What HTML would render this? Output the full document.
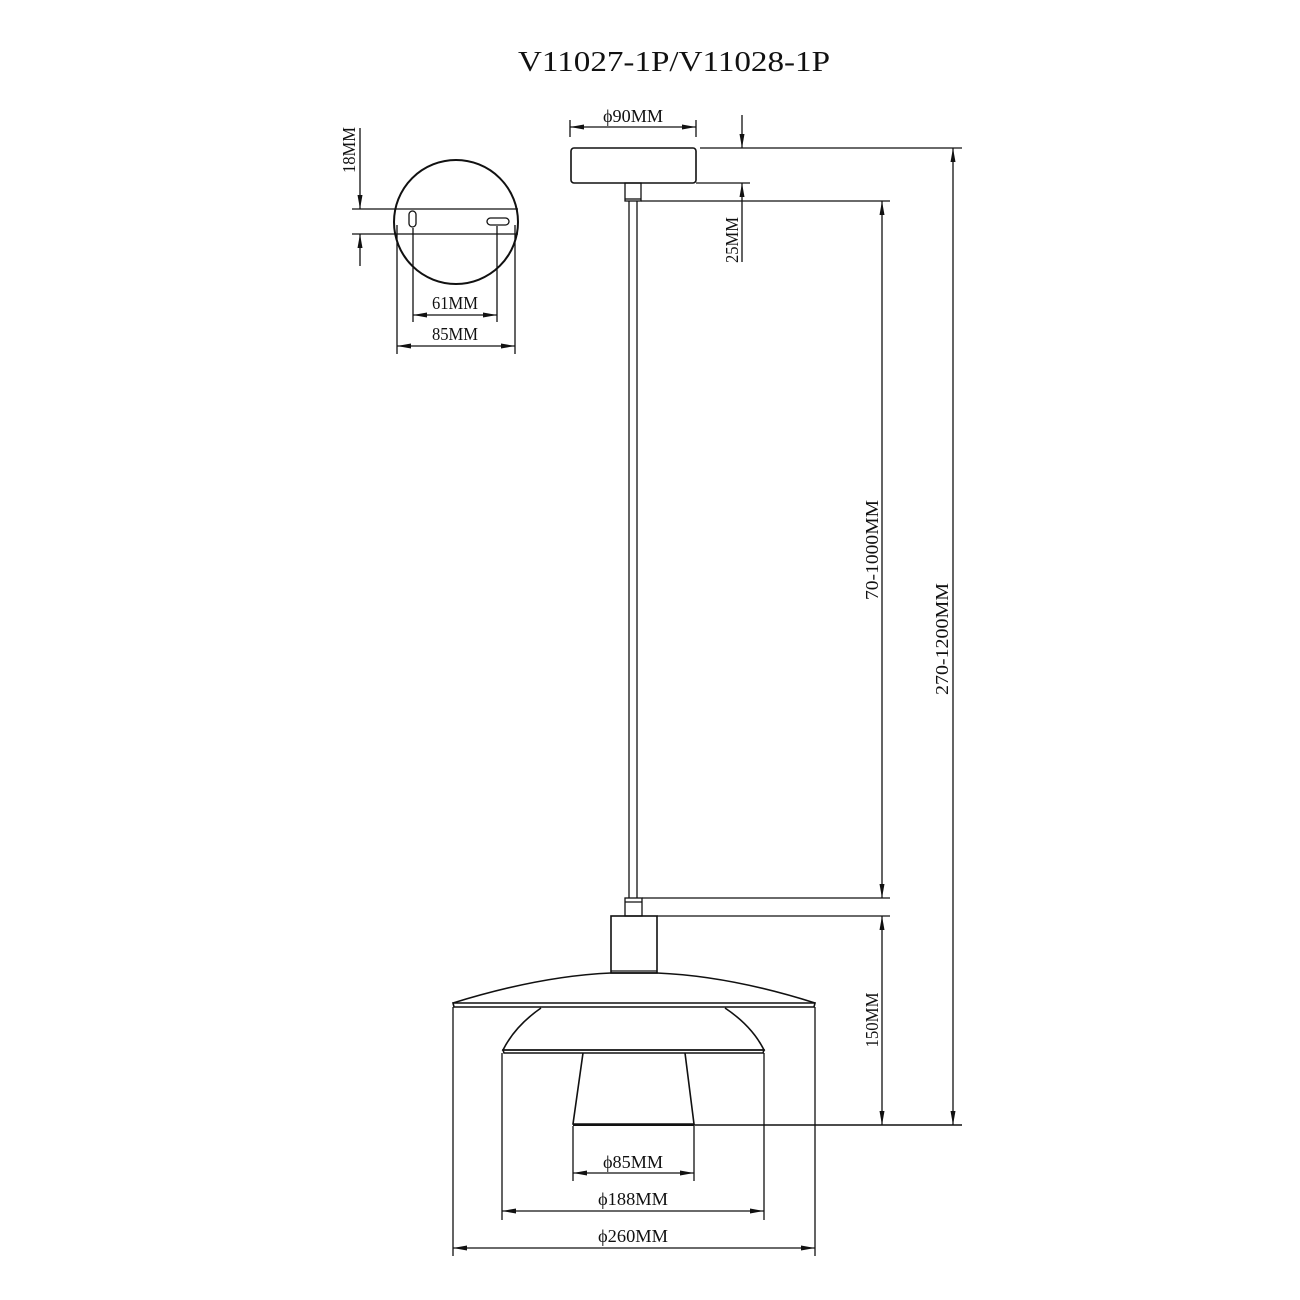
<!DOCTYPE html>
<html><head><meta charset="utf-8"><style>
html,body{margin:0;padding:0;background:#fff;}
svg{display:block;}
text{font-family:"Liberation Serif",serif;fill:#111;}
</style></head><body>
<svg width="1300" height="1300" viewBox="0 0 1300 1300" xmlns="http://www.w3.org/2000/svg">
<rect width="1300" height="1300" fill="#fff"/>
<text x="674" y="71" font-size="28" text-anchor="middle" textLength="312" lengthAdjust="spacingAndGlyphs">V11027-1P/V11028-1P</text>

<g stroke="#111" fill="none" stroke-width="1.3">
<!-- mounting plate -->
<circle cx="456" cy="222" r="62" stroke-width="2"/>
<line x1="352" y1="209" x2="518" y2="209"/>
<line x1="352" y1="234" x2="518" y2="234"/>
<rect x="409" y="211" width="7" height="16" rx="3.5"/>
<rect x="487" y="218" width="22" height="7" rx="3.5"/>
<line x1="413" y1="228" x2="413" y2="322"/>
<line x1="497" y1="226" x2="497" y2="322"/>
<line x1="397" y1="225" x2="397" y2="354"/>
<line x1="515" y1="225" x2="515" y2="354"/>
<line x1="413" y1="315" x2="497" y2="315"/>
<line x1="397" y1="346" x2="515" y2="346"/>
<line x1="360" y1="128" x2="360" y2="209"/>
<line x1="360" y1="234" x2="360" y2="266"/>

<!-- canopy -->
<rect x="571" y="148" width="125" height="35" rx="3" stroke-width="1.6"/>
<rect x="625" y="183" width="16" height="18"/>
<line x1="625" y1="199" x2="641" y2="199"/>
<line x1="629" y1="201" x2="629" y2="898"/>
<line x1="637" y1="201" x2="637" y2="898"/>
<line x1="570" y1="120" x2="570" y2="137"/>
<line x1="696" y1="120" x2="696" y2="137"/>
<line x1="570" y1="127" x2="696" y2="127"/>

<!-- horizontal extension lines -->
<line x1="700" y1="148" x2="962" y2="148"/>
<line x1="696" y1="183" x2="750" y2="183"/>
<line x1="641" y1="201" x2="890" y2="201"/>
<line x1="642" y1="898" x2="890" y2="898"/>
<line x1="657" y1="916" x2="890" y2="916"/>
<line x1="694" y1="1125" x2="962" y2="1125" stroke-width="1.6"/>

<!-- vertical dims -->
<line x1="742" y1="115" x2="742" y2="148"/>
<line x1="742" y1="183" x2="742" y2="262"/>
<line x1="882" y1="201" x2="882" y2="898"/>
<line x1="882" y1="916" x2="882" y2="1125"/>
<line x1="953" y1="148" x2="953" y2="1125"/>

<!-- lamp -->
<rect x="625" y="898" width="17" height="18"/>
<line x1="625" y1="902" x2="642" y2="902"/>
<rect x="611" y="916" width="46" height="57" stroke-width="1.6"/>
<line x1="611" y1="971" x2="657" y2="971"/>
<path d="M453 1003 Q540 976 611 973 L657 973 Q730 976 815 1003" stroke-width="1.6"/>
<path d="M453 1003 L815 1003 L814 1007 L454 1007 Z" stroke-width="1.6"/>
<path d="M541 1008 Q515 1026 503 1050 L764 1050 Q752 1026 725 1008" stroke-width="1.6"/>
<path d="M503 1050 L764 1050 L763 1053 L504 1053 Z" stroke-width="1.6"/>
<path d="M583 1053 L573 1124 L694 1124 L685 1053" stroke-width="1.6"/>
<line x1="573" y1="1125" x2="694" y2="1125" stroke-width="2"/>

<!-- bottom dims -->
<line x1="573" y1="1126" x2="573" y2="1181"/>
<line x1="694" y1="1126" x2="694" y2="1181"/>
<line x1="502" y1="1053" x2="502" y2="1220"/>
<line x1="764" y1="1053" x2="764" y2="1220"/>
<line x1="453" y1="1007" x2="453" y2="1256"/>
<line x1="815" y1="1007" x2="815" y2="1256"/>
<line x1="573" y1="1173" x2="694" y2="1173"/>
<line x1="502" y1="1211" x2="764" y2="1211"/>
<line x1="453" y1="1248" x2="815" y2="1248"/>
</g>

<!-- arrowheads -->
<g fill="#111" stroke="none">
<!-- horizontal -->
<polygon points="570,127 584,124.5 584,129.5"/><polygon points="696,127 682,124.5 682,129.5"/>
<polygon points="413,315 427,312.5 427,317.5"/><polygon points="497,315 483,312.5 483,317.5"/>
<polygon points="397,346 411,343.5 411,348.5"/><polygon points="515,346 501,343.5 501,348.5"/>
<polygon points="573,1173 587,1170.5 587,1175.5"/><polygon points="694,1173 680,1170.5 680,1175.5"/>
<polygon points="502,1211 516,1208.5 516,1213.5"/><polygon points="764,1211 750,1208.5 750,1213.5"/>
<polygon points="453,1248 467,1245.5 467,1250.5"/><polygon points="815,1248 801,1245.5 801,1250.5"/>
<!-- vertical -->
<polygon points="360,209 357.5,195 362.5,195"/><polygon points="360,234 357.5,248 362.5,248"/>
<polygon points="742,148 739.5,134 744.5,134"/><polygon points="742,183 739.5,197 744.5,197"/>
<polygon points="882,201 879.5,215 884.5,215"/><polygon points="882,898 879.5,884 884.5,884"/>
<polygon points="882,916 879.5,930 884.5,930"/><polygon points="882,1125 879.5,1111 884.5,1111"/>
<polygon points="953,148 950.5,162 955.5,162"/><polygon points="953,1125 950.5,1111 955.5,1111"/>
</g>

<!-- labels -->
<g font-size="18">
<text x="633" y="122" text-anchor="middle" textLength="60" lengthAdjust="spacingAndGlyphs">ϕ90MM</text>
<text x="455" y="309" text-anchor="middle" textLength="46" lengthAdjust="spacingAndGlyphs">61MM</text>
<text x="455" y="340" text-anchor="middle" textLength="46" lengthAdjust="spacingAndGlyphs">85MM</text>
<text x="633" y="1168" text-anchor="middle" textLength="60" lengthAdjust="spacingAndGlyphs">ϕ85MM</text>
<text x="633" y="1205" text-anchor="middle" textLength="70" lengthAdjust="spacingAndGlyphs">ϕ188MM</text>
<text x="633" y="1242" text-anchor="middle" textLength="70" lengthAdjust="spacingAndGlyphs">ϕ260MM</text>
<text transform="translate(355,150) rotate(-90)" text-anchor="middle" textLength="46" lengthAdjust="spacingAndGlyphs">18MM</text>
<text transform="translate(738,240) rotate(-90)" text-anchor="middle" textLength="46" lengthAdjust="spacingAndGlyphs">25MM</text>
<text transform="translate(878,550) rotate(-90)" text-anchor="middle" textLength="100" lengthAdjust="spacingAndGlyphs">70-1000MM</text>
<text transform="translate(878,1020) rotate(-90)" text-anchor="middle" textLength="55" lengthAdjust="spacingAndGlyphs">150MM</text>
<text transform="translate(948,639) rotate(-90)" text-anchor="middle" textLength="112" lengthAdjust="spacingAndGlyphs">270-1200MM</text>
</g>
</svg>
</body></html>
